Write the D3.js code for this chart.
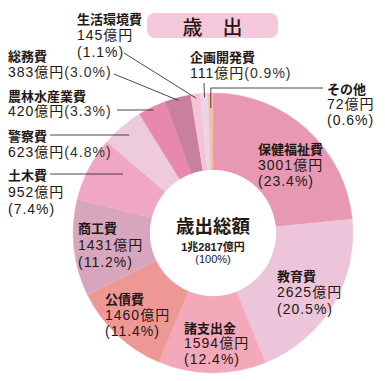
<!DOCTYPE html>
<html><head><meta charset="utf-8">
<script src="https://cdn.jsdelivr.net/npm/d3@7"></script>
<style>
html,body{margin:0;padding:0;background:#fff;}
svg{display:block;}
text{font-family:"Noto Sans CJK JP","Noto Sans",sans-serif;fill:#231815;}
text.num{font-family:"Liberation Sans","Noto Sans CJK JP",sans-serif;}
</style></head>
<body>
<svg id="chart" width="385" height="381"></svg>
<script>
// ---- data ----
const categories = ["保健福祉費","教育費","諸支出金","公債費","商工費","土木費","警察費","農林水産業費","総務費","生活環境費","企画開発費","その他"];
const values = [3001,2625,1594,1460,1431,952,623,420,383,145,111,72];
const percents = ["23.4%","20.5%","12.4%","11.4%","11.2%","7.4%","4.8%","3.3%","3.0%","1.1%","0.9%","0.6%"];
const colors = ["#E898B3","#ECC5DA","#F3A9B9","#EE9896","#D8A6BC","#F0A7C6","#EECBDC","#E788AC","#C8809E","#F4C4D5","#E8D6E8","#F6BEA5"];
const title = "歳　出";
const totalLabel = "歳出総額";
const totalValue = "1兆2817億円";
const totalPct = "(100%)";

// ---- layout ----
const cx = 213, cy = 233, R = 140, r0 = 63;
const fsName = 13, fsNum = 14, lsNum = 1.0;
const labelLayout = {
  "生活環境費": {x:77, y:18, lh:17, mode:3, leader:{type:"diag", from:[124,53], t:0.5, r:136}},
  "総務費":     {x:8,  y:55, lh:17, mode:2, leader:{type:"diag", from:[114,74], t:0.5, r:137}},
  "農林水産業費": {x:8, y:95, lh:16, mode:2, leader:{type:"hor", from:[117,110], t:0.5}},
  "警察費":     {x:8,  y:135, lh:17, mode:2, leader:{type:"hor", from:[50,135], t:0.5}},
  "土木費":     {x:8,  y:174, lh:17.5, mode:3, leader:{type:"hor", from:[50,174], t:0.72}},
  "商工費":     {x:78, y:227, lh:17.5, mode:3},
  "公債費":     {x:105, y:298, lh:16.5, mode:3},
  "諸支出金":   {x:184, y:327.5, lh:15.8, mode:3},
  "教育費":     {x:277, y:275, lh:17, mode:3},
  "保健福祉費": {x:258, y:148, lh:16.5, mode:3},
  "企画開発費": {x:190, y:56.5, lh:16, mode:2, leader:{type:"diag", from:[204,83], t:0.5, r:136}},
  "その他":     {x:327, y:88, lh:15.8, mode:3, leader:{type:"elbow", from:[323,88], t:0.5, r:125}}
};

const svg = d3.select("#chart");

// title box
svg.append("rect").attr("x",147).attr("y",13).attr("width",131).attr("height",25)
  .attr("rx",8).attr("fill","#F6C8DC");
svg.append("text").attr("x",212.5).attr("y",26).attr("text-anchor","middle")
  .attr("dominant-baseline","central").attr("font-size",20).attr("font-weight",500)
  .text(title);

const data = categories.map((c,i)=>({name:c, value:values[i], pct:percents[i], color:colors[i]}));
const pie = d3.pie().value(d=>d.value).sort(null).startAngle(0).endAngle(2*Math.PI);
const arcs = pie(data);
const arc = d3.arc().innerRadius(r0).outerRadius(R);

const g = svg.append("g").attr("transform",`translate(${cx},${cy})`);
g.selectAll("path.slice").data(arcs).enter().append("path")
  .attr("class","slice").attr("d",arc).attr("fill",d=>d.data.color)
  .attr("stroke",d=>d.data.color).attr("stroke-width",0.3);
g.append("circle").attr("r",r0).attr("fill","#fff");

// center text
g.append("text").attr("x",0).attr("y",-8).attr("text-anchor","middle").attr("dominant-baseline","central")
  .attr("font-size",18.5).attr("font-weight",700).text(totalLabel);
g.append("text").attr("class","num").attr("x",0).attr("y",13.5).attr("text-anchor","middle").attr("dominant-baseline","central")
  .attr("font-size",11).attr("font-weight",700).text(totalValue);
g.append("text").attr("class","num").attr("x",0).attr("y",25.5).attr("text-anchor","middle").attr("dominant-baseline","central")
  .attr("font-size",11).attr("font-weight",400).text(totalPct);

// labels and leaders
function polar(a, rr){ return [cx + rr*Math.sin(a), cy - rr*Math.cos(a)]; }
arcs.forEach(a=>{
  const d = a.data, L = labelLayout[d.name];
  if(!L) return;
  const valStr = d.value + "億円";
  const pctStr = "(" + d.pct + ")";
  svg.append("text").attr("x",L.x).attr("y",L.y)
    .attr("dominant-baseline","central").attr("font-size",fsName)
    .attr("font-weight",700).text(d.name);
  if(L.mode===3){
    svg.append("text").attr("class","num").attr("x",L.x).attr("y",L.y+L.lh)
      .attr("dominant-baseline","central").attr("font-size",fsNum)
      .attr("letter-spacing",lsNum).attr("font-weight",400).text(valStr);
    svg.append("text").attr("class","num").attr("x",L.x).attr("y",L.y+2*L.lh)
      .attr("dominant-baseline","central").attr("font-size",fsNum)
      .attr("letter-spacing",lsNum).attr("font-weight",400).attr("fill","#3a3030").text(pctStr);
  } else {
    const tt = svg.append("text").attr("class","num").attr("x",L.x).attr("y",L.y+L.lh)
      .attr("dominant-baseline","central").attr("font-size",fsNum).attr("letter-spacing",lsNum);
    tt.append("tspan").attr("font-weight",400).text(valStr);
    tt.append("tspan").attr("font-weight",400).attr("fill","#3a3030").text(pctStr);
  }
  if(L.leader){
    const ld = L.leader;
    const ang = a.startAngle + (a.endAngle-a.startAngle)*ld.t;
    let pts;
    if(ld.type==="diag"){
      pts = [ld.from, polar(ang, ld.r)];
    } else if(ld.type==="hor"){
      const y = ld.from[1];
      const rr = (cy - y)/Math.cos(ang);
      pts = [ld.from, polar(ang, rr)];
    } else {
      const p = polar(ang, ld.r);
      pts = [ld.from, [p[0], ld.from[1]], p];
    }
    svg.append("path").attr("d", d3.line()(pts)).attr("fill","none")
      .attr("stroke","#231815").attr("stroke-width",0.8);
  }
});
</script>
</body></html>
